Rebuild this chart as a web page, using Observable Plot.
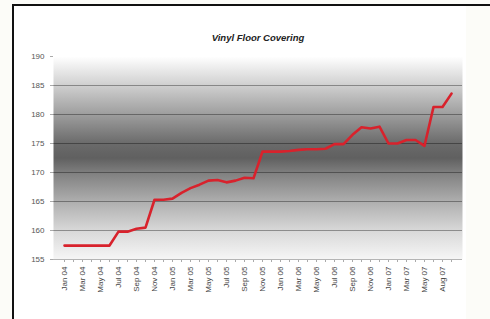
<!DOCTYPE html>
<html>
<head>
<meta charset="utf-8">
<script src="https://cdn.jsdelivr.net/npm/d3@7"></script>
<script src="https://cdn.jsdelivr.net/npm/@observablehq/plot@0.6"></script>
<style>
  html, body { margin: 0; padding: 0; background: #fcfcf8; width: 490px; height: 319px; overflow: hidden; }
  #wrap { position: absolute; left: 0; top: 0; width: 490px; height: 319px; }
  #border { position: absolute; left: 12px; top: 4px; width: 500px; height: 330px;
            border-top: 2px solid #111; border-left: 2px solid #111; pointer-events: none; }
  #inner { position: absolute; left: 14px; top: 6px; width: 452px; height: 313px; background: #ffffff; }
  svg { position: absolute; left: 0; top: 0; }
</style>
</head>
<body>
<div id="wrap"><div id="inner"></div><div id="chart"></div><div id="border"></div></div>
<script>
const title = "Vinyl Floor Covering";
const months = [
  "Jan 04","Feb 04","Mar 04","Apr 04","May 04","Jun 04","Jul 04","Aug 04","Sep 04","Oct 04","Nov 04","Dec 04",
  "Jan 05","Feb 05","Mar 05","Apr 05","May 05","Jun 05","Jul 05","Aug 05","Sep 05","Oct 05","Nov 05","Dec 05",
  "Jan 06","Feb 06","Mar 06","Apr 06","May 06","Jun 06","Jul 06","Aug 06","Sep 06","Oct 06","Nov 06","Dec 06",
  "Jan 07","Feb 07","Mar 07","Apr 07","May 07","Jun 07","Aug 07","Sep 07"
];
const values = [
  157.4, 157.4, 157.4, 157.4, 157.4, 157.4, 159.8, 159.8, 160.3, 160.5, 165.3, 165.3,
  165.5, 166.5, 167.3, 167.9, 168.6, 168.7, 168.3, 168.6, 169.1, 169.0, 173.6, 173.6,
  173.6, 173.7, 173.9, 174.0, 174.0, 174.1, 174.9, 174.9, 176.5, 177.8, 177.6, 177.9,
  175.0, 175.0, 175.6, 175.6, 174.6, 181.3, 181.3, 183.6
];
const yTicks = [155, 160, 165, 170, 175, 180, 185, 190];
const gridValues = [160, 165, 170, 175, 180, 185];

const data = months.map((m, i) => ({month: m, value: values[i]}));
const shownLabels = new Set(months.filter((m, i) => i % 2 === 0));

const chart = Plot.plot({
  width: 490,
  height: 319,
  marginTop: 56,
  marginBottom: 60,
  marginLeft: 53,
  marginRight: 28,
  style: {fontFamily: "Arial, 'Liberation Sans', sans-serif", background: "transparent", overflow: "visible"},
  x: {type: "point", domain: months, padding: 0.5, label: null},
  y: {domain: [155, 190], label: null},
  marks: [
    Plot.frame({fill: "url(#bgGrad)", stroke: "none"}),
    Plot.ruleY(gridValues, {stroke: "#000", strokeOpacity: 0.35, strokeWidth: 1}),
    Plot.axisY({ticks: yTicks, tickSize: 3, tickPadding: 6, fontSize: 8, fill: "#555", stroke: "#aaa"}),
    Plot.axisX({
      ticks: months, tickSize: 3, tickRotate: -90, fontSize: 8, fill: "#444", stroke: "#aaa",
      tickPadding: 4, tickFormat: d => shownLabels.has(d) ? d : ""
    }),
    Plot.ruleY([155], {stroke: "#b5b5b5"}),
    Plot.line(data, {x: "month", y: "value", stroke: "#d8222c", strokeWidth: 2.6, strokeLinejoin: "round"}),
    Plot.text([title], {frameAnchor: "top", dy: -22, fontSize: 9.5, fontWeight: "bold", fontStyle: "italic", fill: "#222"})
  ]
});

const svg = d3.select(chart);
const defs = svg.insert("defs", ":first-child");
const g = defs.append("linearGradient").attr("id", "bgGrad").attr("x1", 0).attr("y1", 0).attr("x2", 0).attr("y2", 1);
[
  [0, "#ffffff"], [0.14, "#d0d0d0"], [0.29, "#9c9c9c"], [0.43, "#6a6a6a"], [0.5, "#606060"],
  [0.58, "#828282"], [0.72, "#b0b0b0"], [0.86, "#d9d9d9"], [1, "#f6f6f6"]
].forEach(([o, c]) => g.append("stop").attr("offset", o).attr("stop-color", c));

document.getElementById("chart").appendChild(chart);
</script>
</body>
</html>
